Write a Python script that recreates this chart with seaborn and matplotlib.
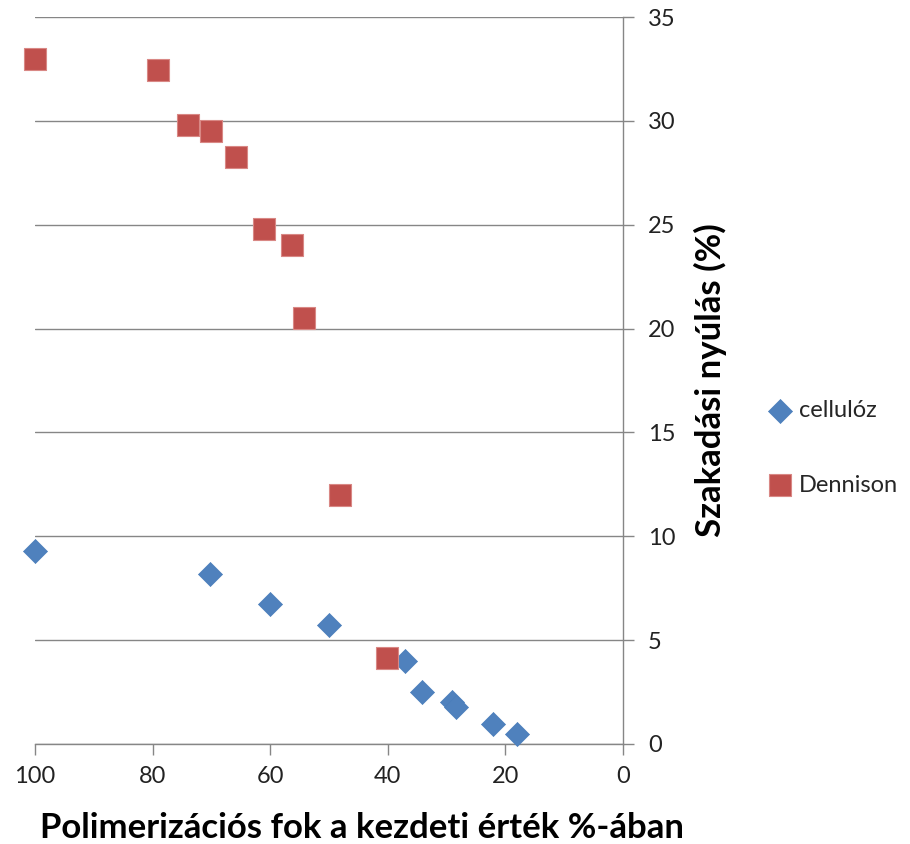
import matplotlib
matplotlib.use("Agg")
import matplotlib.pyplot as plt
import seaborn as sns
import pandas as pd

cell_x = [100, 70.2, 60.1, 50.0, 37.1, 34.1, 29.1, 28.4, 22.1, 18.1]
cell_y = [9.29, 8.18, 6.75, 5.73, 4.0, 2.52, 2.04, 1.80, 0.96, 0.47]
den_x = [100, 79.0, 74.0, 70.0, 65.9, 61.1, 56.3, 54.2, 48.1, 40.1]
den_y = [33.0, 32.45, 29.8, 29.5, 28.26, 24.8, 24.0, 20.5, 12.0, 4.13]
series_names = ["cellulóz", "Dennison"]
x_ticks = [100, 80, 60, 40, 20, 0]
y_ticks = [0, 5, 10, 15, 20, 25, 30, 35]
x_label = "Polimerizációs fok a kezdeti érték %-ában"
y_label = "Szakadási nyúlás (%)"

sns.set_style("white")
plt.rcParams['font.family'] = ['Lato', 'DejaVu Sans']

fig = plt.figure(figsize=(9.10, 8.44), dpi=100)
ax = fig.add_axes([35/910, 100/844, 588/910, 727/844])

df_c = pd.DataFrame({"x": cell_x, "y": cell_y})
df_d = pd.DataFrame({"x": den_x, "y": den_y})
grid_col = "#868686"

sns.scatterplot(data=df_c, x="x", y="y", ax=ax, marker="D", s=150, color="#4F81BD",
                edgecolor="#4A7EBB", linewidth=0.5, label=series_names[0], clip_on=False, zorder=3)
sns.scatterplot(data=df_d, x="x", y="y", ax=ax, marker="s", s=240, color="#C0504D",
                edgecolor="#D98885", linewidth=0.8, label=series_names[1], clip_on=False, zorder=3)

ax.set_xlim(100, 0)
ax.set_ylim(0, 35)
ax.set_xticks(x_ticks)
ax.set_yticks(y_ticks)
ax.yaxis.tick_right()
ax.yaxis.set_label_position("right")
for s in ["left", "top"]:
    ax.spines[s].set_visible(False)
for s in ["right", "bottom"]:
    ax.spines[s].set_color(grid_col)
    ax.spines[s].set_linewidth(1.0)
ax.grid(axis="y", color=grid_col, linewidth=1.0)
ax.grid(axis="x", visible=False)
ax.tick_params(axis="both", direction="out", length=8, width=1.0, color=grid_col,
               labelsize=17, labelcolor="#222222")
ax.tick_params(axis="y", pad=10, right=True, left=False)
ax.tick_params(axis="x", pad=8, bottom=True)

ax.set_xlabel(x_label, fontsize=25, fontweight="bold", color="black")
ax.xaxis.set_label_coords((362-35)/588, -0.094)
ax.set_ylabel(y_label, fontsize=25, fontweight="bold", color="black")
ax.yaxis.set_label_coords((694-35)/588, 0.5)

leg = ax.legend(loc="center left", bbox_to_anchor=(768/910, 1-448/844), bbox_transform=fig.transFigure,
                frameon=False, fontsize=17, labelspacing=2.25, handletextpad=0.3,
                handlelength=1.0, borderpad=0, borderaxespad=0)

fig.savefig("out.png", dpi=100, facecolor="white")
